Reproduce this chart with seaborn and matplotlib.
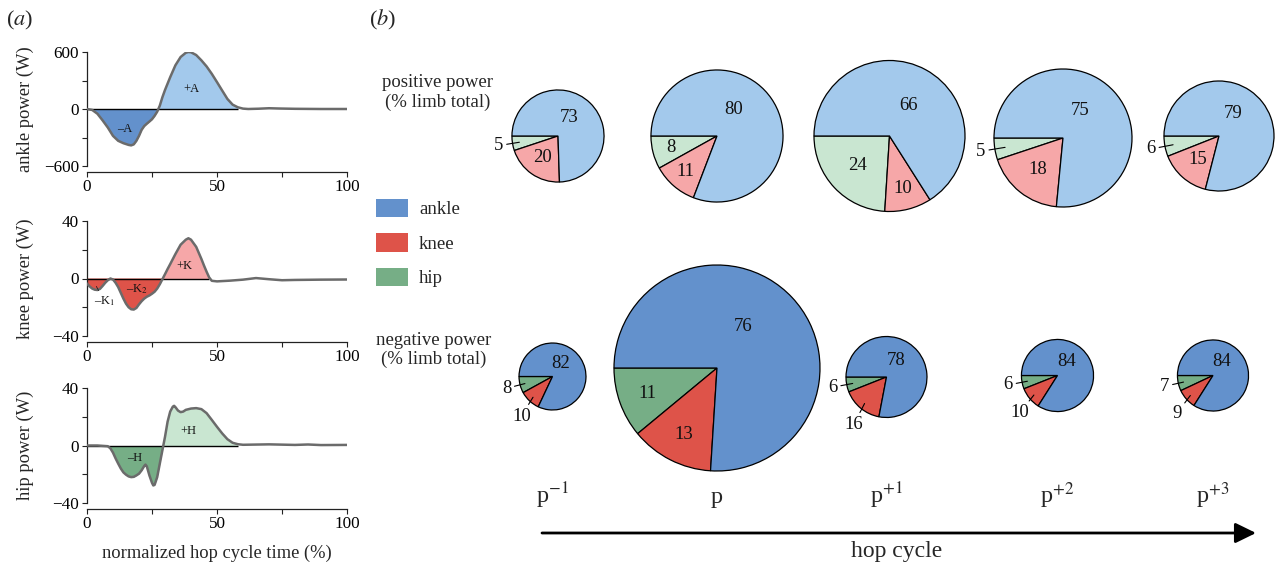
import matplotlib
matplotlib.use('Agg')
import numpy as np
import matplotlib.pyplot as plt
import seaborn as sns
from matplotlib.patches import Patch

# ---- panel (a): joint power over one hop cycle
ankle_t = [0, 2, 4, 6, 8, 10, 12, 14, 16, 17, 18, 19, 20, 21, 22, 23, 24, 25, 26, 27, 28, 29, 30,
           32, 34, 36, 38, 39, 40, 42, 44, 46, 48, 50, 52, 54, 56, 58, 60, 62, 66, 70, 74, 80, 90, 100]
ankle_w = [0, -10, -50, -120, -195, -283, -335, -360, -378, -383, -372, -335, -283, -220, -180, -155,
           -132, -108, -72, -28, 35, 124, 200, 335, 460, 547, 592, 600, 597, 568, 512, 448, 370, 283,
           194, 106, 46, 18, 4, 0, 3, 8, 5, 2, 0, 0]

knee_t = [0, 1, 2, 3, 4, 5, 6, 7, 8, 9, 10, 11, 12, 13, 14, 15, 16, 17, 18, 19, 20, 21, 22, 23, 24,
          25, 26, 27, 28, 29, 30, 31, 32, 34, 36, 38, 39, 40, 42, 44, 45, 46, 47, 48, 50, 55, 60, 65,
          70, 75, 80, 90, 100]
knee_w = [-3.5, -5.5, -7, -7.8, -8, -7.2, -5.2, -3, -1.2, 0, -0.7, -3, -6, -10, -14, -17.5, -20,
          -21.4, -21.6, -20.5, -18, -15.8, -14, -12.7, -11.8, -10.6, -9.2, -7, -4, -0.5, 3, 6.6, 10,
          17, 23.5, 27, 28, 27, 22, 13.6, 9, 4.7, 0.7, -1.6, -2, -1.5, -0.8, 0.3, -0.5, -1.2, -1,
          -0.8, -0.7]

hip_t = [0, 4, 8, 9, 10, 11, 12, 13, 14, 15, 16, 17, 18, 19, 20, 21, 22, 22.5, 23, 24, 25, 25.5,
         26, 27, 28, 29, 30, 31, 32, 33, 33.5, 34, 35, 36, 37, 38, 40, 42, 44, 46, 48, 50, 52, 54,
         56, 58, 60, 70, 80, 85, 90, 100]
hip_w = [0, 0, -0.5, -2, -5, -9, -12.6, -16, -18.7, -20.3, -21.5, -22, -21.8, -20.8, -19.6, -17.3,
         -14.3, -13.3, -14.5, -20.8, -26, -27.8, -27.4, -22, -12.6, -3.3, 6, 16.6, 23.6, 27, 27.6,
         26.7, 24.3, 23.2, 23.6, 24.8, 25.7, 26, 25.3, 22.5, 17.8, 13, 8.4, 4.4, 1.9, 0.9, 0.5,
         0.8, 0.4, 0.7, 0.3, 0.4]

# ---- panel (b): share of limb work (%) per joint for each hop
cycles = ['p$^{-1}$', 'p', 'p$^{+1}$', 'p$^{+2}$', 'p$^{+3}$']
pos_ankle = [73, 80, 66, 75, 79]
pos_knee = [20, 11, 10, 18, 15]
pos_hip = [5, 8, 24, 5, 6]
neg_ankle = [82, 76, 78, 84, 84]
neg_knee = [10, 13, 16, 10, 9]
neg_hip = [8, 11, 6, 6, 7]
# pie radius relative to the biggest pie (limb total)
pos_size = [0.447, 0.641, 0.733, 0.670, 0.534]
neg_size = [0.325, 1.0, 0.393, 0.350, 0.345]

# colours
dark = {'ankle': '#6391CC', 'knee': '#DE5349', 'hip': '#76AE86'}
light = {'ankle': '#A3C9EC', 'knee': '#F6A7A8', 'hip': '#C9E6D1'}
curve_grey = '#6B6B6B'

sns.set_theme(style='ticks')
plt.rcParams['font.family'] = ['Liberation Serif', 'DejaVu Serif']
plt.rcParams['mathtext.fontset'] = 'stix'
plt.rcParams['axes.unicode_minus'] = True

W, H = 1277, 569
fig = plt.figure(figsize=(W / 100, H / 100), dpi=100)

# overlay axes in pixel units for panel (b)
axb = fig.add_axes([0, 0, 1, 1])

# ---------------- panel (a)
panels = [
    ('ankle', ankle_t, ankle_w, (-600, 600), 'ankle power (W)', [87, 403, 260, 114]),
    ('knee', knee_t, knee_w, (-40, 40), 'knee power (W)', [87, 233, 260, 115]),
    ('hip', hip_t, hip_w, (-40, 40), 'hip power (W)', [87, 66, 260, 115]),
]


def tick_text(v, show):
    if not show:
        return ''
    return '\u2212%d' % -v if v < 0 else '%d' % v


axes_a = []
for joint, t, w, ylim, ylabel, rect in panels:
    ax = fig.add_axes([rect[0] / W, rect[1] / H, rect[2] / W, rect[3] / H])
    ax.patch.set_alpha(0)
    t = np.asarray(t, float)
    w = np.asarray(w, float)
    peak = int(np.argmax(w))
    after = np.where((np.arange(len(w)) > peak) & (w < 0.05 * w.max()))[0]
    t_end = t[after[0]] if len(after) else t[-1]
    m = t <= t_end
    ax.fill_between(t[m], w[m], 0, where=w[m] < 0, interpolate=True, color=dark[joint], lw=0)
    ax.fill_between(t[m], w[m], 0, where=w[m] > 0, interpolate=True, color=light[joint], lw=0)
    ax.hlines(0, 0, t_end, color='black', lw=1.0, zorder=2)
    sns.lineplot(x=t, y=w, ax=ax, color=curve_grey, lw=1.8, zorder=3)
    ax.set_xlim(0, 100)
    ax.set_ylim(*ylim)
    yt = np.linspace(ylim[0], ylim[1], 5)
    ax.set_yticks(yt, [tick_text(v, i % 2 == 0) for i, v in enumerate(yt)])
    ax.set_xticks([0, 25, 50, 75, 100], ['0', '', '50', '', '100'])
    ax.tick_params(labelsize=12.3, length=3.6, width=0.8, pad=2, colors='#222222',
                   labelcolor='black')
    sns.despine(ax=ax, offset={'bottom': 4, 'left': 0})
    for s in ('left', 'bottom'):
        ax.spines[s].set_linewidth(0.9)
        ax.spines[s].set_color('#222222')
    ax.set_ylabel(ylabel, fontsize=13.3)
    ax.yaxis.set_label_coords(-0.205, 0.5)
    ax.set_xlabel('')
    axes_a.append(ax)

ann = dict(fontsize=9, ha='center', va='center', color='#111111')
axes_a[0].text(40, 210, '+A', **ann)
axes_a[0].text(14.6, -210, '\u2013A', **ann)
axes_a[1].text(37.4, 8.4, '+K', **ann)
axes_a[1].text(19.2, -7.7, '\u2013K$_2$', **ann)
axes_a[1].annotate('\u2013K$_1$', xy=(3.6, -5.5), xytext=(6.6, -15.5),
                   arrowprops=dict(arrowstyle='-', lw=0.6, color='#222222', shrinkA=0, shrinkB=0),
                   **ann)
axes_a[2].text(38.8, 9.8, '+H', **ann)
axes_a[2].text(18.5, -8.4, '\u2013H', **ann)

axes_a[2].set_xlabel('normalized hop cycle time (%)', fontsize=13.3)
axes_a[2].xaxis.set_label_coords(0.5, -0.365)

# ---------------- panel (b)
pos_x = [558, 717, 889.5, 1063, 1219]
pos_y = [433, 433, 433, 431, 433]
neg_x = [552.5, 717, 886.5, 1057.5, 1213]
neg_y = [192.5, 201, 192, 193.5, 193.5]
r_max = 103
num = dict(fontsize=13.5, ha='center', va='center', color='#111111')


def draw_pie(cx, cy, r, ankle, knee, hip, palette):
    vals = [hip, knee, ankle]
    axb.pie(vals, colors=[palette['hip'], palette['knee'], palette['ankle']],
            startangle=180, counterclock=True, center=(cx, cy), radius=r, frame=True,
            wedgeprops=dict(edgecolor='black', linewidth=0.9))
    total = float(sum(vals))
    a0 = 180.0
    mids = []
    for v in vals:
        a1 = a0 + 360 * v / total
        mids.append((a0 + a1) / 2)
        a0 = a1
    # ankle label sits in the upper half
    axb.text(cx + 0.25 * r, cy + 0.4 * r, str(ankle), **num)
    for k, (v, mid) in enumerate(zip(vals[:2], mids[:2])):
        th = np.deg2rad(mid)
        if v * r * r >= 30000:  # wedge big enough to hold its number
            d = 0.58 * r if v >= 15 else 0.72 * r
            axb.text(cx + d * np.cos(th), cy + d * np.sin(th), str(v), **num)
        else:
            if k == 0:
                d, th2 = r + 14, th
            else:
                d, th2 = r + 17, np.deg2rad(mid + 5)
            tx, ty = cx + d * np.cos(th2), cy + d * np.sin(th2)
            ix, iy = cx + 0.85 * r * np.cos(th), cy + 0.85 * r * np.sin(th)
            axb.annotate(str(v), xy=(ix, iy), xytext=(tx, ty),
                         arrowprops=dict(arrowstyle='-', lw=0.8, color='black',
                                         shrinkA=0, shrinkB=0), **num)


for i in range(5):
    draw_pie(pos_x[i], pos_y[i], pos_size[i] * r_max, pos_ankle[i], pos_knee[i], pos_hip[i], light)
    draw_pie(neg_x[i], neg_y[i], neg_size[i] * r_max, neg_ankle[i], neg_knee[i], neg_hip[i], dark)
    axb.text(neg_x[i], 66, cycles[i], fontsize=17.5, ha='center', va='baseline')

axb.text(438, 476.5, 'positive power\n(% limb total)', fontsize=13.5, ha='center', va='center',
         linespacing=1.15)
axb.text(434, 219, 'negative power\n(% limb total)', fontsize=13.5, ha='center', va='center',
         linespacing=1.15)

axb.annotate('', xy=(1256, 36), xytext=(542, 36),
             arrowprops=dict(arrowstyle='-|>,head_length=0.45,head_width=0.22', lw=2,
                             color='black', mutation_scale=28, shrinkA=0, shrinkB=0))
axb.text(897, 12, 'hop cycle', fontsize=17, ha='center', va='baseline')

axb.text(20, 549, '($a$)', fontsize=16, ha='center', va='center')
axb.text(383, 549, '($b$)', fontsize=16, ha='center', va='center')

axb.set_xlim(0, W)
axb.set_ylim(0, H)
axb.set_aspect('auto')
axb.axis('off')

fig.legend(handles=[Patch(facecolor=dark[j], edgecolor='none', label=j)
                    for j in ('ankle', 'knee', 'hip')],
           loc='upper left', bbox_to_anchor=(376 / W, 1 - 199 / H), frameon=False,
           fontsize=13.5, handlelength=1.7, handleheight=1.12, labelspacing=0.8,
           handletextpad=0.6, borderpad=0, borderaxespad=0)

fig.savefig('out.png', dpi=100)
